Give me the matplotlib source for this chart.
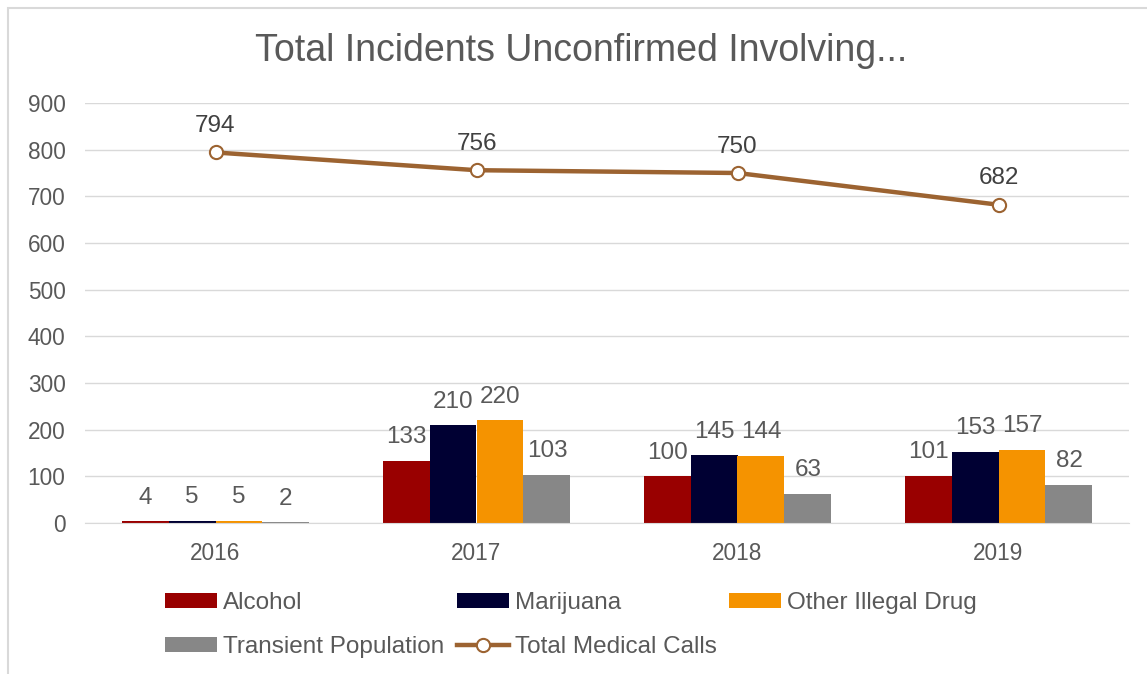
import numpy as np
import matplotlib
matplotlib.use("Agg")
import matplotlib.pyplot as plt
from matplotlib.patches import Rectangle

years = ["2016", "2017", "2018", "2019"]
alcohol = [4, 133, 100, 101]
marijuana = [5, 210, 145, 153]
other_drug = [5, 220, 144, 157]
transient = [2, 103, 63, 82]
medical_calls = [794, 756, 750, 682]

plt.rcParams["font.family"] = ["Liberation Sans", "DejaVu Sans"]
TXT = "#595959"

fig = plt.figure(figsize=(11.47, 6.74), dpi=100)
# chart frame
fig.patches.append(Rectangle((8 / 1147, -0.05), 1.2, (674 - 8) / 674 + 0.05,
                             transform=fig.transFigure, fill=False,
                             edgecolor="#d9d9d9", lw=1.5))
ax = fig.add_axes([85 / 1147, 1 - 523 / 674, (1129 - 85) / 1147, (523 - 103) / 674])

x = np.arange(len(years))
w = 0.18
series = [("Alcohol", alcohol, "#990000"),
          ("Marijuana", marijuana, "#000033"),
          ("Other Illegal Drug", other_drug, "#F59300"),
          ("Transient Population", transient, "#878787")]
handles = {}
for i, (name, vals, col) in enumerate(series):
    xs = x + (i - 1.5) * w
    handles[name] = ax.bar(xs, vals, w, color=col, label=name, zorder=2)
    for xi, v in zip(xs, vals):
        ax.annotate(str(v), (xi, v), xytext=(0, 9), textcoords="offset points",
                    ha="center", va="bottom", fontsize=17.5, color=TXT)

line, = ax.plot(x, medical_calls, color="#9C6331", lw=3.2, marker="o", ms=9.5,
                mfc="white", mec="#9C6331", mew=1.5, label="Total Medical Calls", zorder=3)
handles["Total Medical Calls"] = line
for xi, v in zip(x, medical_calls):
    ax.annotate(str(v), (xi, v), xytext=(0, 11), textcoords="offset points",
                ha="center", va="bottom", fontsize=17.5, color="#404040")

ax.set_xlim(-0.5, 3.5)
ax.set_ylim(0, 900)
ax.set_yticks(range(0, 901, 100))
ax.set_xticks(x)
ax.set_xticklabels(years)
ax.tick_params(axis="both", length=0, labelsize=16.3, labelcolor=TXT)
ax.tick_params(axis="y", pad=14)
ax.tick_params(axis="x", pad=14)
ax.grid(axis="y", color="#d9d9d9", lw=1, zorder=0)
ax.set_axisbelow(True)
for s in ["left", "right", "top"]:
    ax.spines[s].set_visible(False)
ax.spines["bottom"].set_color("#d9d9d9")

fig.text(581 / 1147, 1 - 51 / 674, "Total Incidents Unconfirmed Involving...", ha="center",
         va="center", fontsize=27, color=TXT)

order = ["Alcohol", "Transient Population", "Marijuana", "Total Medical Calls",
         "Other Illegal Drug"]
leg = fig.legend([handles[k] for k in order], order, ncol=3, loc="center left",
                 bbox_to_anchor=(165 / 1147, 1 - 625 / 674), frameon=False,
                 borderpad=0, borderaxespad=0,
                 fontsize=17.5, handlelength=2.15, handleheight=0.6, handletextpad=0.25,
                 columnspacing=0.5, labelspacing=0.9)
for t in leg.get_texts():
    t.set_color(TXT)

fig.savefig("out.png", dpi=100)
